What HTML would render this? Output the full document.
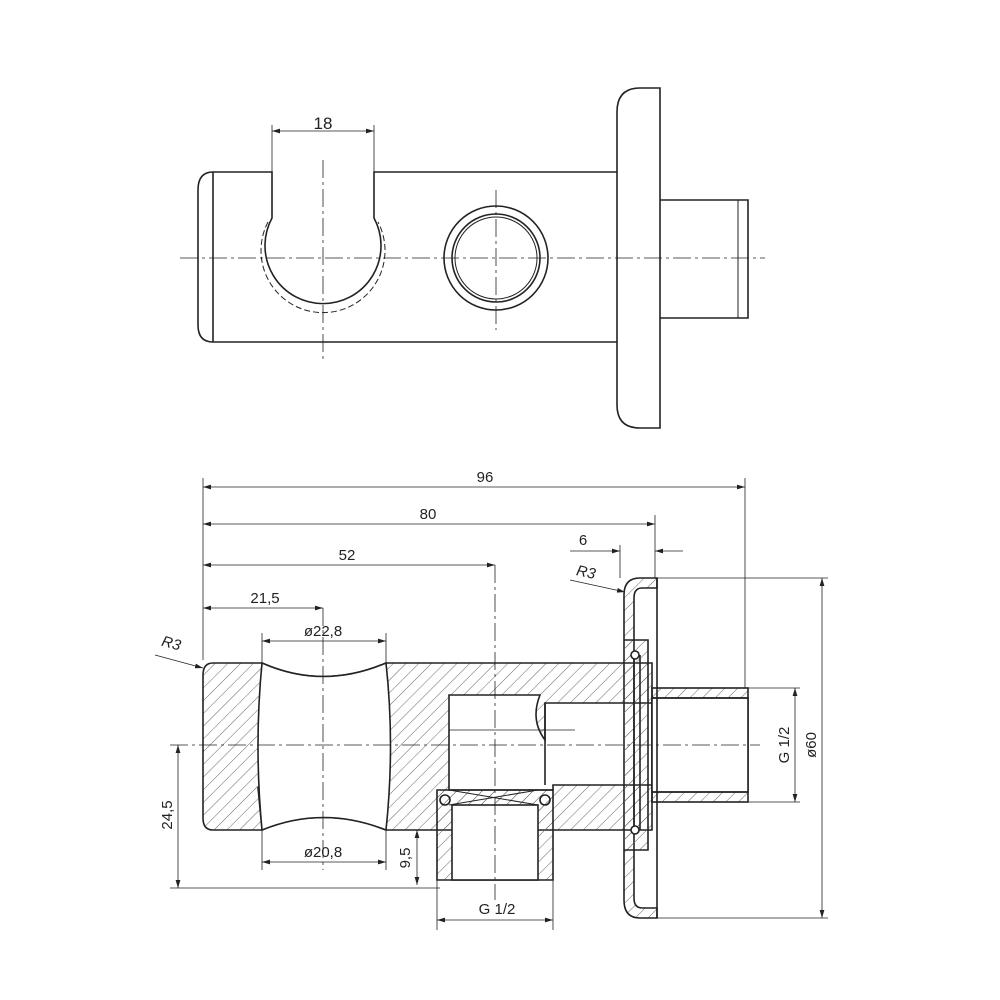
<!DOCTYPE html>
<html><head><style>body{margin:0;background:#fff}svg{display:block}</style></head><body>
<svg width="1000" height="1000" viewBox="0 0 1000 1000" xmlns="http://www.w3.org/2000/svg" font-family="Liberation Sans, sans-serif" font-size="15" fill="none" stroke="#222" stroke-width="1.6">
<defs>
<pattern id="h" width="9" height="9" patternUnits="userSpaceOnUse" patternTransform="rotate(45)"><line x1="0" y1="0" x2="0" y2="9" stroke="#666" stroke-width="1"/></pattern>
<marker id="a" markerWidth="10" markerHeight="6" refX="10" refY="3" orient="auto-start-reverse"><path d="M0,0 L10,3 L0,6z" fill="#222" stroke="none"/></marker>
</defs>
<!-- TOP VIEW -->
<g>
<path d="M213,172 Q198,172 198,190 V325 Q198,342 213,342 H617"/>
<line x1="213" y1="172" x2="213" y2="342"/>
<path d="M213,172 H272 V218 A58,58 0 1 0 374,218 V172 H617"/>
<path d="M268,222 A62,62 0 1 0 378,222" stroke-dasharray="6,3" stroke-width="1"/>
<circle cx="496" cy="258" r="52"/><circle cx="496" cy="258" r="44"/><circle cx="496" cy="258" r="41" stroke-width="1"/>
<path d="M660,88 H640 Q617,88 617,112 V405 Q617,428 640,428 H660 Z"/>
<path d="M660,200 H748 V318 H660"/><line x1="738" y1="200" x2="738" y2="318" stroke-width="1"/>
<g stroke-width="0.8" stroke-dasharray="18,4,3,4">
<line x1="180" y1="258" x2="765" y2="258"/><line x1="323" y1="160" x2="323" y2="360"/><line x1="496" y1="190" x2="496" y2="330"/></g>
<g stroke-width="0.8"><line x1="272" y1="125" x2="272" y2="172"/><line x1="374" y1="125" x2="374" y2="172"/>
<line x1="272" y1="131" x2="374" y2="131" marker-start="url(#a)" marker-end="url(#a)"/></g>
<text x="323" y="129" text-anchor="middle" fill="#222" stroke="none" font-size="17">18</text>
</g>
<!-- SECTION VIEW -->
<g>
<path d="M213,663 H262 Q323,690 386,663 H652 V830 H386 Q323,805 262,830 H213 Q203,830 203,818 V675 Q203,663 213,663 Z" fill="url(#h)"/>
<path d="M262,663 Q323,690 386,663 Q395,745 386,830 Q323,805 262,830 Q254,745 262,830 Q254,745 262,663Z" fill="#fff" stroke="#222"/>
<path d="M449,695 H540 Q530,720 545,740 V703 H652 V785 H553 V790 H449 Z" fill="#fff"/>
<line x1="545" y1="703" x2="545" y2="785"/><line x1="449" y1="730" x2="575" y2="730" stroke-width="0.8"/>
<rect x="652" y="688" width="96" height="114" fill="url(#h)"/><rect x="652" y="698" width="96" height="94" fill="#fff"/>
<line x1="652" y1="698" x2="748" y2="698"/><line x1="652" y1="792" x2="748" y2="792"/>
<path d="M437,790 H553 V880 H437 Z" fill="url(#h)"/>
<rect x="452" y="805" width="86" height="75" fill="#fff"/>
<path d="M449,790 L538,805 M538,790 L449,805" stroke-width="1"/>
<circle cx="445" cy="800" r="5"/><circle cx="545" cy="800" r="5"/>
<path d="M657,578 H640 Q624,578 624,595 V900 Q624,918 640,918 H657 V908 H642 Q634,908 634,898 V598 Q634,588 642,588 H657 Z" fill="url(#h)"/>
<path d="M624,640 H648 V850 H624" fill="url(#h)"/>
<line x1="634" y1="655" x2="634" y2="830"/><line x1="640" y1="655" x2="640" y2="830"/>
<circle cx="635" cy="655" r="4" fill="#fff"/><circle cx="635" cy="830" r="4" fill="#fff"/>
<line x1="657" y1="578" x2="657" y2="918"/>
<g stroke-width="0.8" stroke-dasharray="18,4,3,4">
<line x1="170" y1="745" x2="760" y2="745"/><line x1="495" y1="565" x2="495" y2="900"/><line x1="323" y1="608" x2="323" y2="870"/></g>
<g stroke-width="0.8">
<line x1="203" y1="478" x2="203" y2="660"/>
<line x1="745" y1="478" x2="745" y2="688"/><line x1="655" y1="515" x2="655" y2="578"/>
<line x1="203" y1="487" x2="745" y2="487" marker-start="url(#a)" marker-end="url(#a)"/>
<line x1="203" y1="524" x2="655" y2="524" marker-start="url(#a)" marker-end="url(#a)"/>
<line x1="203" y1="565" x2="495" y2="565" marker-start="url(#a)" marker-end="url(#a)"/>
<line x1="203" y1="608" x2="323" y2="608" marker-start="url(#a)" marker-end="url(#a)"/>
<line x1="620" y1="545" x2="620" y2="578"/>
<line x1="570" y1="551" x2="620" y2="551" marker-end="url(#a)"/><line x1="683" y1="551" x2="655" y2="551" marker-end="url(#a)"/>
<line x1="262" y1="633" x2="262" y2="663"/><line x1="386" y1="633" x2="386" y2="663"/>
<line x1="262" y1="641" x2="386" y2="641" marker-start="url(#a)" marker-end="url(#a)"/>
<line x1="262" y1="830" x2="262" y2="870"/><line x1="386" y1="830" x2="386" y2="870"/>
<line x1="262" y1="862" x2="386" y2="862" marker-start="url(#a)" marker-end="url(#a)"/>
<line x1="170" y1="888" x2="440" y2="888"/>
<line x1="178" y1="745" x2="178" y2="888" marker-start="url(#a)" marker-end="url(#a)"/>
<line x1="410" y1="830" x2="449" y2="830"/>
<line x1="417" y1="830" x2="417" y2="885" marker-start="url(#a)" marker-end="url(#a)"/>
<line x1="437" y1="880" x2="437" y2="930"/><line x1="553" y1="880" x2="553" y2="930"/>
<line x1="437" y1="920" x2="553" y2="920" marker-start="url(#a)" marker-end="url(#a)"/>
<line x1="748" y1="688" x2="800" y2="688"/><line x1="748" y1="802" x2="800" y2="802"/>
<line x1="795" y1="688" x2="795" y2="802" marker-start="url(#a)" marker-end="url(#a)"/>
<line x1="657" y1="578" x2="828" y2="578"/><line x1="657" y1="918" x2="828" y2="918"/>
<line x1="822" y1="578" x2="822" y2="918" marker-start="url(#a)" marker-end="url(#a)"/>
<line x1="155" y1="655" x2="203" y2="668" marker-end="url(#a)"/>
<line x1="570" y1="580" x2="625" y2="592" marker-end="url(#a)"/>
</g>
<g fill="#222" stroke="none" text-anchor="middle">
<text x="485" y="482">96</text><text x="428" y="519">80</text><text x="347" y="560">52</text>
<text x="265" y="603">21,5</text><text x="583" y="545">6</text>
<text x="323" y="636">ø22,8</text><text x="323" y="857">ø20,8</text>
<text x="497" y="914">G 1/2</text>
<text x="170" y="648" font-style="italic" transform="rotate(15 170 648)">R3</text>
<text x="585" y="577" font-style="italic" transform="rotate(12 585 577)">R3</text>
<text transform="translate(172,815) rotate(-90)">24,5</text>
<text transform="translate(410,858) rotate(-90)">9,5</text>
<text transform="translate(789,745) rotate(-90)">G 1/2</text>
<text transform="translate(816,745) rotate(-90)">ø60</text>
</g>
</g>
</svg>
</body></html>
